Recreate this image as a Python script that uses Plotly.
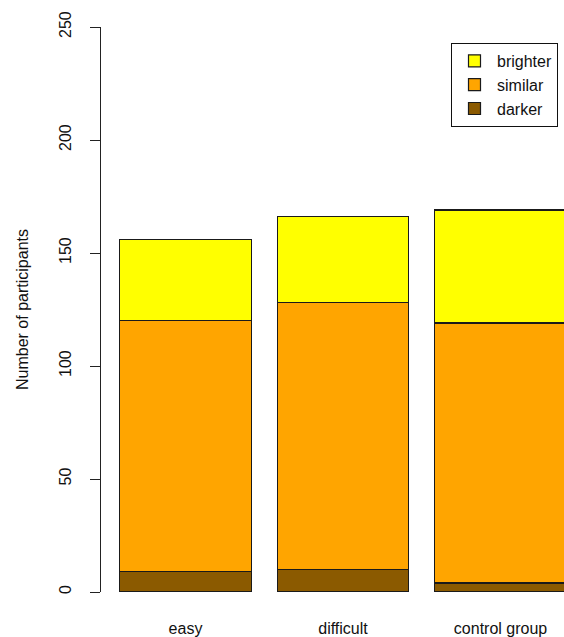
import plotly.graph_objects as go

categories = ["easy", "difficult", "control group"]
darker = [9, 10, 4]
similar = [111, 118, 115]   # stacked on darker: tops at 120, 128, 119
brighter = [36, 38, 50]     # tops at 156, 166, 169

series = [
    ("darker", darker, "#8B5A00"),
    ("similar", similar, "#FFA500"),
    ("brighter", brighter, "#FFFF00"),
]

FONT = "Liberation Sans, Arial, sans-serif"

fig = go.Figure()
for name, vals, col in series:
    fig.add_trace(go.Bar(
        x=categories, y=vals, name=name,
        marker=dict(color=col, line=dict(color="#1a1a1a", width=1.2)),
    ))

fig.update_layout(
    width=564, height=637,
    barmode="stack", bargap=1/6,
    plot_bgcolor="white", paper_bgcolor="white",
    margin=dict(l=101, r=0, t=27, b=45),
    font=dict(family=FONT, size=16, color="#111111"),
    showlegend=True,
    legend=dict(
        traceorder="reversed",
        x=(451 - 101) / 463, xanchor="left", y=1 - (43 - 27) / 565, yanchor="top",
        bordercolor="#111111", borderwidth=1,
        font=dict(size=16, family=FONT, color="#111111"),
        bgcolor="white", itemwidth=35,
    ),
    xaxis=dict(
        type="category",
        range=[-0.5365, 2.403],
        showline=False, showgrid=False, zeroline=False,
        ticks="", ticklabelstandoff=25,
        tickfont=dict(size=16, family=FONT, color="#111111"),
    ),
    yaxis=dict(
        range=[0, 250], tickvals=[0, 50, 100, 150, 200, 250],
        showline=True, linecolor="#222222", linewidth=1,
        ticks="outside", ticklen=10, tickwidth=1, tickcolor="#222222",
        showgrid=False, zeroline=False,
        tickangle=-90, ticklabelstandoff=13,
        tickfont=dict(size=16, family=FONT, color="#111111"),
        title=dict(text="Number of participants", standoff=23,
                   font=dict(size=16, family=FONT, color="#111111")),
    ),
)

fig.write_html("out.html", config={"displayModeBar": False},
               post_script="document.body.style.margin='0';")
